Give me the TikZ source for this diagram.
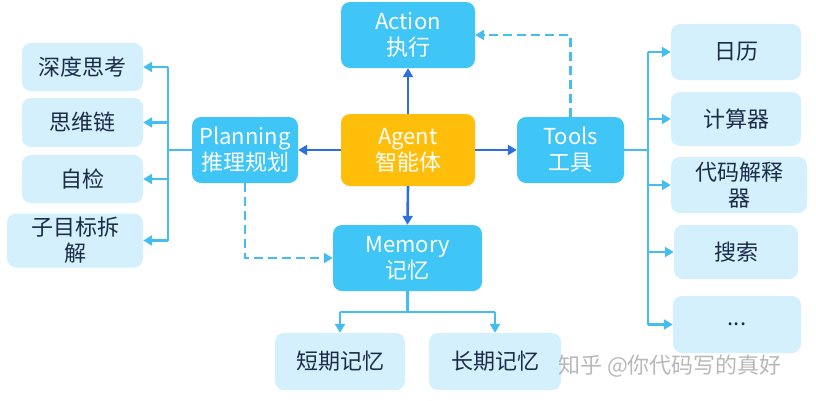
\documentclass[tikz,border=0pt]{standalone}
\usepackage{fontspec}
\setmainfont{Noto Sans CJK SC}
\usetikzlibrary{arrows.meta}
\definecolor{mainbox}{HTML}{3FC5F6}
\definecolor{agentbox}{HTML}{FFBE0A}
\definecolor{childbox}{HTML}{D3F0FC}
\definecolor{childtext}{HTML}{1B2B48}
\definecolor{darkline}{HTML}{2F6FDB}
\definecolor{lightline}{HTML}{45BDF0}
\tikzset{
  mainnode/.style={rounded corners=9pt, fill=mainbox, text=white, align=center,
    font=\fontsize{22}{26}\selectfont, inner sep=0pt},
  agentnode/.style={mainnode, fill=agentbox},
  childnode/.style={rounded corners=9pt, fill=childbox, text=childtext, align=center,
    font=\fontsize{22}{26}\selectfont, inner sep=0pt},
  darkarrow/.style={draw=darkline, line width=2.6pt, -{Triangle[length=9pt,width=10pt]}},
  lightlink/.style={draw=lightline, line width=2.8pt},
  lightarrow/.style={lightlink, -{Triangle[length=9pt,width=10pt]}},
  dasharrow/.style={lightarrow, dash pattern=on 9pt off 5pt},
}
\begin{document}
\begin{tikzpicture}[x=1pt,y=-1pt]
\useasboundingbox (0,0) rectangle (816,400);
% main nodes
\node[mainnode, minimum width=134pt, minimum height=66pt] (action) at (408,35) {Action\\执行};
\node[agentnode, minimum width=134pt, minimum height=72pt] (agent) at (408,150) {Agent\\智能体};
\node[mainnode, minimum width=149pt, minimum height=66pt] (memory) at (407.5,258) {Memory\\记忆};
\node[mainnode, minimum width=107pt, minimum height=66pt] (tools) at (570.5,150) {Tools\\工具};
\node[mainnode, minimum width=106pt, minimum height=66pt] (planning) at (245,150) {Planning\\推理规划};
% planning children
\node[childnode, minimum width=121pt, minimum height=48pt] (c1) at (82.5,67) {深度思考};
\node[childnode, minimum width=121pt, minimum height=49pt] (c2) at (82.5,122.5) {思维链};
\node[childnode, minimum width=121pt, minimum height=48pt] (c3) at (82.5,179) {自检};
\node[childnode, minimum width=136pt, minimum height=54pt] (c4) at (75,240.5) {子目标拆\\解};
% memory children
\node[childnode, minimum width=130pt, minimum height=57pt] (ms) at (340,361.5) {短期记忆};
\node[childnode, minimum width=132pt, minimum height=57pt] (ml) at (495,361.5) {长期记忆};
% tools children
\node[childnode, minimum width=130pt, minimum height=56pt] (t1) at (736,52) {日历};
\node[childnode, minimum width=130pt, minimum height=54pt] (t2) at (736,119) {计算器};
\node[childnode, minimum width=136pt, minimum height=56pt] (t3) at (739,185) {代码解释\\器};
\node[childnode, minimum width=124pt, minimum height=54pt] (t4) at (736,252) {搜索};
\node[childnode, minimum width=128pt, minimum height=57pt] (t5) at (737,324.5) {...};
% agent arrows
\draw[darkarrow] (agent.north) -- (action.south);
\draw[darkarrow] (agent.south) -- (memory.north);
\draw[darkarrow] (agent.west) -- (planning.east);
\draw[darkarrow] (agent.east) -- (tools.west);
% dashed
\draw[dasharrow] (tools.north) |- (action.east);
\draw[dasharrow] (planning.south) |- (memory.west);
% planning tree
\coordinate (pb) at (168,150);
\draw[lightlink] (planning.west) -- (pb);
\draw[lightlink] (pb |- c1.east) -- (pb |- c4.east);
\foreach \c in {c1,c2,c3,c4} \draw[lightarrow] (pb |- \c.east) -- (\c.east);
% tools tree
\coordinate (tb) at (648,150);
\draw[lightlink] (tools.east) -- (tb);
\draw[lightlink] (tb |- t1.west) -- (tb |- t5.west);
\foreach \c in {t1,t2,t3,t4,t5} \draw[lightarrow] (tb |- \c.west) -- (\c.west);
% memory tree
\coordinate (mb) at (407.5,312);
\draw[lightlink] (memory.south) -- (mb);
\draw[lightlink] (ms.north |- mb) -- (ml.north |- mb);
\draw[lightarrow] (ms.north |- mb) -- (ms.north);
\draw[lightarrow] (ml.north |- mb) -- (ml.north);
% watermark
\node[text=black!35, font=\fontsize{22}{26}\selectfont, opacity=0.8] (wm) at (670,366) {知乎 @你代码写的真好};
\end{tikzpicture}
\end{document}
